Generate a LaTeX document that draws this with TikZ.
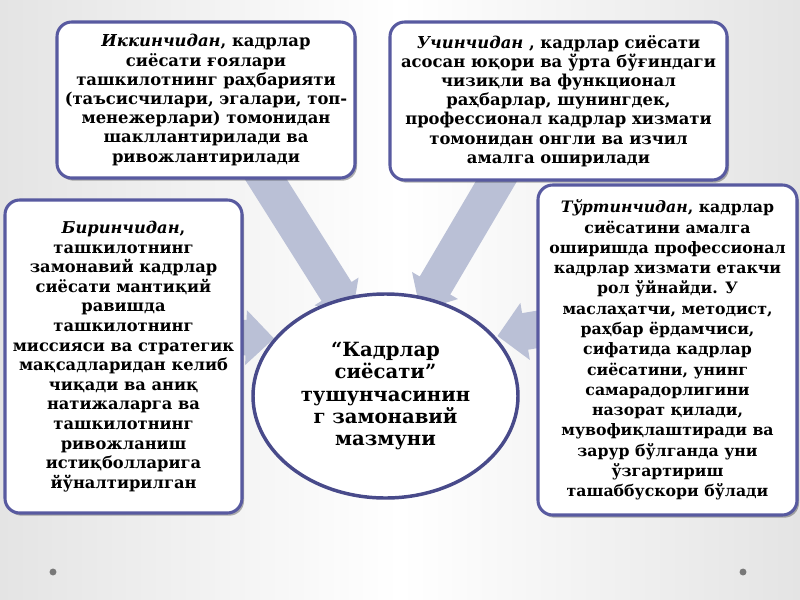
\documentclass[tikz,border=0pt]{standalone}
\usepackage{fontspec}
\setmainfont{DejaVu Serif}
\usetikzlibrary{calc,shapes.geometric,shadows}
\definecolor{boxline}{RGB}{88,90,160}
\definecolor{ellline}{RGB}{72,74,138}
\definecolor{arrowc}{RGB}{186,192,214}
\definecolor{bgedge}{RGB}{228,228,228}
\definecolor{dotc}{RGB}{120,120,120}
\pgfdeclarelayer{back}
\pgfdeclarelayer{arrowlayer}
\pgfsetlayers{back,arrowlayer,main}
\newcommand\blockarrow[5]{%
  \coordinate (h) at ($(#2)!#5!(#1)$);
  \fill[arrowc] ($(#1)!#3!90:(#2)$) -- ($(h)!#3!-90:(#1)$) -- ($(h)!#4!-90:(#1)$) -- (#2)
    -- ($(h)!#4!90:(#1)$) -- ($(h)!#3!90:(#1)$) -- ($(#1)!#3!-90:(#2)$) -- cycle;
}
\tikzset{
  box/.style={draw=boxline, line width=2.3pt, fill=white, rounded corners=11pt,
    align=center, inner sep=0pt,
    drop shadow={shadow xshift=1.5pt, shadow yshift=-2pt, fill=black, opacity=0.3}},
  boxtext/.style={font=\fontsize{12.3pt}{14.4pt}\selectfont\bfseries},
  lefttext/.style={font=\fontsize{12.2pt}{14.7pt}\selectfont\bfseries},
  righttext/.style={font=\fontsize{11.8pt}{15.2pt}\selectfont\bfseries},
  elltext/.style={font=\fontsize{14.7pt}{16.6pt}\selectfont\bfseries},
}
\begin{document}
\begin{tikzpicture}[x=0.75pt,y=-0.75pt]
\useasboundingbox (0,0) rectangle (800,600);
\begin{pgfonlayer}{back}
  \shade[left color=bgedge, right color=bgedge, middle color=white] (0,0) rectangle (800,600);
  \fill[dotc] (53,572) circle (2.6pt);
  \fill[dotc] (743,572) circle (2.6pt);
\end{pgfonlayer}

% boxes
\node[box, boxtext, minimum width=223.5pt, minimum height=117pt] (second) at (206,100)
  {\textit{Иккинчидан}, кадрлар\\ сиёсати ғоялари\\ ташкилотнинг раҳбарияти\\ (таъсисчилари, эгалари, топ-\\ менежерлари) томонидан\\ шакллантирилади ва\\ ривожлантирилади};
\node[box, boxtext, minimum width=252.75pt, minimum height=118.5pt] (third) at (558.5,101)
  {\textit{Учинчидан} , кадрлар сиёсати\\ асосан юқори ва ўрта бўғиндаги\\ чизиқли ва функционал\\ раҳбарлар, шунингдек,\\ профессионал кадрлар хизмати\\ томонидан онгли ва изчил\\ амалга оширилади};
\node[box, lefttext, minimum width=177.75pt, minimum height=234.75pt] (first) at (123.5,356.5)
  {\textit{Биринчидан},\\ ташкилотнинг\\ замонавий кадрлар\\ сиёсати мантиқий\\ равишда\\ ташкилотнинг\\ миссияси ва стратегик\\ мақсадларидан келиб\\ чиқади ва аниқ\\ натижаларга ва\\ ташкилотнинг\\ ривожланиш\\ истиқболларига\\ йўналтирилган};
\node[box, righttext, minimum width=194.25pt, minimum height=247.5pt] (fourth) at (667.5,350)
  {\textit{Тўртинчидан}, кадрлар\\ сиёсатини амалга\\ оширишда профессионал\\ кадрлар хизмати етакчи\\ рол ўйнайди. У\\ маслаҳатчи, методист,\\ раҳбар ёрдамчиси,\\ сифатида кадрлар\\ сиёсатини, унинг\\ самарадорлигини\\ назорат қилади,\\ мувофиқлаштиради ва\\ зарур бўлганда уни\\ ўзгартириш\\ ташаббускори бўлади};

% centre
\node[ellipse, draw=ellline, line width=2.6pt, fill=white, elltext, align=center,
  minimum width=198.75pt, minimum height=153pt, inner sep=0pt] (centre) at (385.5,396)
  {“Кадрлар\\ сиёсати”\\ тушунчасинин\\ г замонавий\\ мазмуни};

% arrows (behind boxes and centre)
\coordinate (a1) at (251.5,156.6);
\coordinate (t1) at (352,316);
\coordinate (a2) at (511.2,156.1);
\coordinate (t2) at (420.3,310.5);
\coordinate (a3) at (150,334.5);
\coordinate (t3) at (274,338.5);
\coordinate (a4) at (600,319);
\coordinate (t4) at (497.5,336);
\begin{pgfonlayer}{arrowlayer}
  \blockarrow{a1}{t1}{13.3pt}{19.5pt}{21.75pt}
  \blockarrow{a2}{t2}{13.3pt}{20pt}{21.75pt}
  \blockarrow{a3}{t3}{13.3pt}{20.6pt}{21pt}
  \blockarrow{a4}{t4}{13.9pt}{21.7pt}{21pt}
\end{pgfonlayer}
\end{tikzpicture}
\end{document}
